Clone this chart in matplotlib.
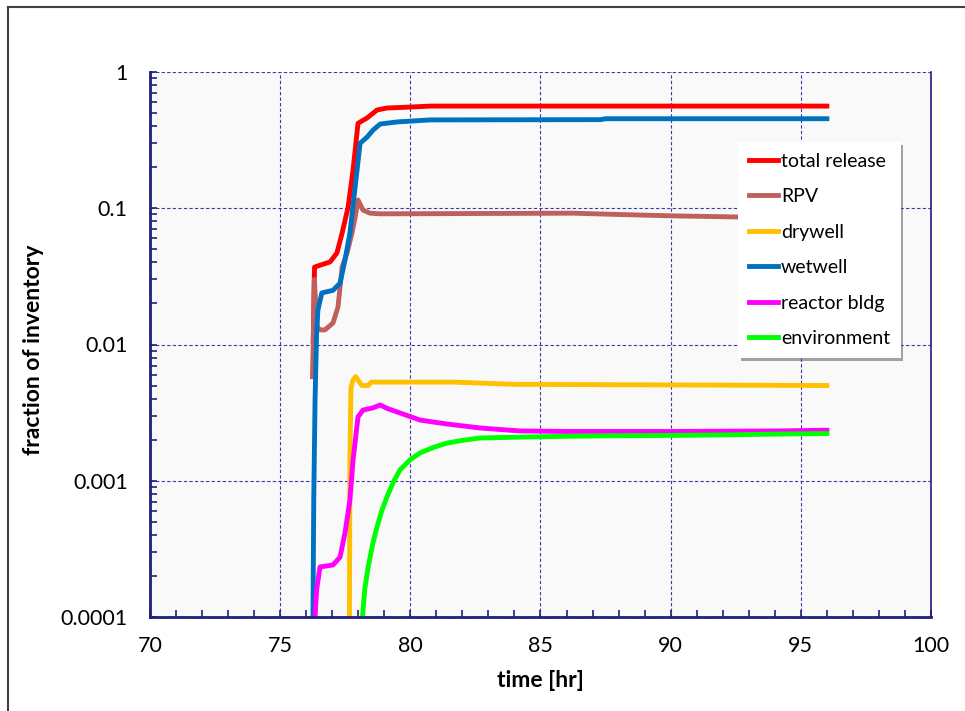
import matplotlib
matplotlib.use("Agg")
import matplotlib.pyplot as plt
from matplotlib.lines import Line2D
from matplotlib.ticker import FixedLocator, LogLocator, NullFormatter

plt.rcParams["font.family"] = ["Lato", "DejaVu Sans"]

# ── data ────────────────────────────────────────────────────────────────────
t_total = [76.27, 76.32, 76.92, 77.18, 77.38, 77.61, 77.80, 77.99, 78.34,
           78.72, 79.10, 79.99, 80.76, 96.0]
v_total = [0.0105, 0.037, 0.0404, 0.047, 0.0658, 0.102, 0.191, 0.42, 0.46,
           0.526, 0.544, 0.553, 0.562, 0.562]

t_rpv = [76.24, 76.27, 76.31, 76.42, 76.53, 76.72, 77.03, 77.22, 77.38,
         77.57, 77.76, 77.88, 77.99, 78.18, 78.45, 78.84, 86.25, 88.0,
         90.0, 93.0, 96.0]
v_rpv = [0.0058, 0.0105, 0.030, 0.0135, 0.0128, 0.0128, 0.0144, 0.0188,
         0.037, 0.047, 0.066, 0.086, 0.115, 0.097, 0.092, 0.091, 0.092,
         0.090, 0.088, 0.086, 0.085]

t_dry = [77.66, 77.68, 77.72, 77.80, 77.90, 78.14, 78.38, 78.50, 81.6,
         84.0, 96.0]
v_dry = [0.00008, 0.0015, 0.0048, 0.0055, 0.0058, 0.0050, 0.0050, 0.0053,
         0.0053, 0.0051, 0.0050]

t_wet = [76.24, 76.26, 76.29, 76.34, 76.40, 76.45, 76.60, 77.03, 77.30,
         77.49, 77.68, 77.88, 78.07, 78.34, 78.57, 78.84, 79.49, 80.76,
         87.3, 87.5, 96.0]
v_wet = [0.00005, 0.0001, 0.00072, 0.0039, 0.0121, 0.0179, 0.0239, 0.025,
         0.0282, 0.0417, 0.066, 0.143, 0.30, 0.333, 0.375, 0.415, 0.43,
         0.445, 0.447, 0.454, 0.454]

t_rb = [76.30, 76.34, 76.40, 76.53, 77.03, 77.30, 77.49, 77.68, 77.80,
        77.99, 78.18, 78.57, 78.84, 79.10, 79.49, 80.37, 81.40, 82.68,
        84.2, 86.0, 90.0, 94.0, 96.0]
v_rb = [0.00008, 0.0001, 0.000158, 0.000233, 0.000241, 0.000275, 0.000414,
        0.000723, 0.00142, 0.00294, 0.0033, 0.00343, 0.0036, 0.0034,
        0.0032, 0.00279, 0.00261, 0.00244, 0.00232, 0.0023, 0.0023,
        0.00232, 0.00235]

t_env = [78.12, 78.25, 78.38, 78.55, 78.72, 78.90, 79.10, 79.35, 79.60,
         80.0, 80.37, 80.9, 81.41, 82.0, 82.68, 84.2, 86.0, 88.0, 90.0,
         92.0, 94.0, 96.0]
v_env = [0.00008, 0.00016, 0.000233, 0.00034, 0.000458, 0.0006, 0.00076,
         0.00098, 0.0012, 0.00143, 0.0016, 0.00176, 0.00189, 0.00198,
         0.00206, 0.00209, 0.00212, 0.00214, 0.00215, 0.00217, 0.0022,
         0.00222]

series = [
    ("total release", t_total, v_total, "#FF0000"),
    ("RPV", t_rpv, v_rpv, "#C0605C"),
    ("drywell", t_dry, v_dry, "#FFC000"),
    ("wetwell", t_wet, v_wet, "#0070C0"),
    ("reactor bldg", t_rb, v_rb, "#FF00FF"),
    ("environment", t_env, v_env, "#00FF00"),
]

x_ticks = [70, 75, 80, 85, 90, 95, 100]
y_ticks = [0.0001, 0.001, 0.01, 0.1, 1]
y_labels = ["0.0001", "0.001", "0.01", "0.1", "1"]

# ── figure ──────────────────────────────────────────────────────────────────
navy = "#1F1F7A"
fig = plt.figure(figsize=(9.65, 7.11), dpi=100)
ax = fig.add_axes([150 / 965, 1 - 617 / 711, 781 / 965, 545 / 711])
ax.set_facecolor("#F9F9F9")

for name, t, v, c in series:
    ax.plot(t, v, color=c, lw=3.5, label=name)

ax.set_yscale("log")
ax.set_xlim(70, 100)
ax.set_ylim(0.0001, 1)

ax.xaxis.set_major_locator(FixedLocator(x_ticks))
ax.xaxis.set_minor_locator(FixedLocator(range(70, 101)))
ax.set_xticklabels([str(x) for x in x_ticks])
ax.yaxis.set_major_locator(FixedLocator(y_ticks))
ax.set_yticklabels(y_labels)
ax.yaxis.set_minor_locator(LogLocator(base=10, subs=range(2, 10)))
ax.yaxis.set_minor_formatter(NullFormatter())

ax.tick_params(which="both", direction="in", color=navy, length=5, width=1.2,
               labelsize=15.5, labelcolor="black")
ax.tick_params(axis="x", which="major", pad=14)
ax.tick_params(axis="y", which="major", pad=16)

ax.grid(True, which="major", color="#3A3AA8", lw=0.8, ls=(0, (3, 2)))
ax.spines["top"].set_visible(False)
ax.spines["left"].set_color(navy)
ax.spines["left"].set_linewidth(2)
ax.spines["bottom"].set_color(navy)
ax.spines["bottom"].set_linewidth(2)
ax.spines["right"].set_color(navy)
ax.spines["right"].set_linewidth(1.2)

ax.set_xlabel("time [hr]", fontsize=16.5, fontweight="bold")
ax.set_ylabel("fraction of inventory", fontsize=16.5, fontweight="bold")
ax.xaxis.set_label_coords(0.5, -0.098)
ax.yaxis.set_label_coords(-0.136, 0.49)

leg = ax.legend(loc="upper left", bbox_to_anchor=(0.753, 0.8716),
                borderaxespad=0, frameon=True, fancybox=False, shadow=True,
                framealpha=1, edgecolor="white", fontsize=14,
                handlelength=1.5, handletextpad=0.15, labelspacing=0.95,
                borderpad=0.55)
leg.get_frame().set_linewidth(0)

# outer frame (cropped on the right and bottom)
fig.add_artist(Line2D([8 / 965, 8 / 965], [0, 1 - 7 / 711], color="#404040",
                      lw=1.5))
fig.add_artist(Line2D([8 / 965, 1], [1 - 7 / 711, 1 - 7 / 711],
                      color="#404040", lw=1.5))

fig.savefig("out.png", dpi=100, facecolor="white")
